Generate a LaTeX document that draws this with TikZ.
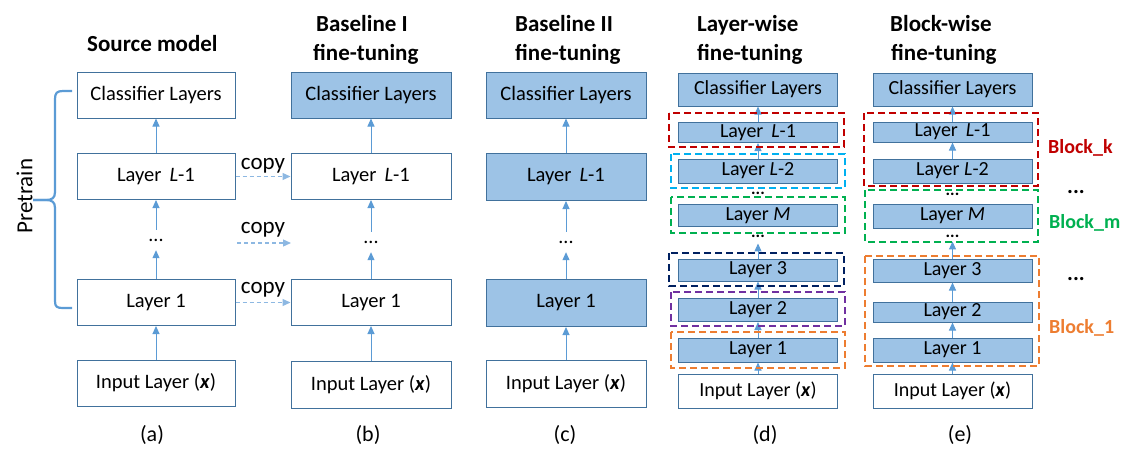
\documentclass[tikz,border=0pt]{standalone}
\usepackage{fontspec}
\setmainfont{Carlito}
\usetikzlibrary{arrows.meta}
\definecolor{bd}{HTML}{41719C}
\definecolor{fl}{HTML}{9DC3E6}
\definecolor{ar}{HTML}{5B9BD5}
\definecolor{cp}{HTML}{8DB8E2}
\definecolor{dred}{HTML}{C00000}
\definecolor{dblue}{HTML}{00B0F0}
\definecolor{dgreen}{HTML}{00B050}
\definecolor{dnavy}{HTML}{002060}
\definecolor{dpurple}{HTML}{7030A0}
\definecolor{dorange}{HTML}{ED7D31}
\begin{document}
\begin{tikzpicture}[x=1pt,y=-1pt,
  lbox/.style={draw=bd, line width=1pt, minimum width=158pt, minimum height=46pt, inner sep=0pt, font=\fontsize{20.5}{24}\selectfont},
  fbox/.style={lbox, fill=fl},
  sbox/.style={draw=bd, line width=1pt, fill=fl, minimum width=159pt, inner sep=0pt, font=\fontsize{20}{22}\selectfont},
  ibox/.style={draw=bd, line width=1pt, minimum width=159pt, minimum height=34pt, inner sep=0pt, font=\fontsize{20}{22}\selectfont},
  dotsn/.style={minimum height=20pt, inner sep=0pt, font=\fontsize{20}{24}\selectfont},
  sdotsn/.style={inner sep=0pt, font=\fontsize{17}{18}\selectfont\bfseries},
  arr/.style={draw=ar, line width=1pt, -{Triangle[length=8pt,width=7pt]}},
  cparr/.style={draw=cp, line width=1.3pt, dash pattern=on 4pt off 3pt, -{Triangle[length=8pt,width=7pt]}},
  ttl/.style={anchor=base west, inner sep=0pt, font=\fontsize{23}{28}\selectfont\bfseries},
  cpl/.style={anchor=base, inner sep=0pt, font=\fontsize{23}{28}\selectfont},
  sub/.style={inner sep=0pt, font=\fontsize{22}{26}\selectfont},
  dbx/.style={line width=2.2pt, dash pattern=on 7pt off 4pt},
  blk/.style={anchor=west, inner sep=0pt, font=\fontsize{20}{24}\selectfont\bfseries},
  sdots/.style={inner sep=0pt, font=\fontsize{22}{26}\selectfont\bfseries}
]
\useasboundingbox (0,0) rectangle (1141,463);

% ---------- titles ----------
\node[ttl] (tA) at (87,51) {Source model};
\node[ttl] (tB1) at (316,31) {Baseline I};
\node[ttl] (tB2) at (313,60) {fine-tuning};
\node[ttl] (tC1) at (515,31) {Baseline II};
\node[ttl] (tC2) at (515,60) {fine-tuning};
\node[ttl] (tD1) at (697,31) {Layer-wise};
\node[ttl] (tD2) at (697,60) {fine-tuning};
\node[ttl] (tE1) at (890,31) {Block-wise};
\node[ttl] (tE2) at (891,60) {fine-tuning};

% ---------- column (a) ----------
\node[lbox] (aC) at (156,95) {Classifier Layers};
\node[lbox] (aL) at (156,176.5) {Layer \,\textit{L}-1};
\node[dotsn] (aD) at (156,240) {...};
\node[lbox] (a1) at (156,302.5) {Layer 1};
\node[lbox] (aI) at (156,383) {Input Layer (\textbf{\textit{x}})};
\draw[arr] (aI.north) -- (a1.south);
\draw[arr] (a1.north) -- (aD.south);
\draw[arr] (aD.north) -- (aL.south);
\draw[arr] (aL.north) -- (aC.south);
\node[sub] (la) at (152,435) {(a)};

% brace
\draw[ar, line width=2.2pt] (72,91) -- (63,91) .. controls (57,91) and (55,93) .. (55,99) -- (55,192) .. controls (55,198) and (52,200) .. (46,200) -- (33,200);
\draw[ar, line width=2.2pt] (33,200) -- (46,200) .. controls (52,200) and (55,202) .. (55,208) -- (55,301) .. controls (55,307) and (57,308) .. (63,308) -- (72,308);
\node[rotate=90, inner sep=0pt, font=\fontsize{23}{28}\selectfont] (pt) at (24.5,196) {Pretrain};

% ---------- column (b) ----------
\node[fbox, minimum width=160pt] (bC) at (371,95) {Classifier Layers};
\node[lbox, minimum width=160pt] (bL) at (371,176.5) {Layer \,\textit{L}-1};
\node[dotsn] (bD) at (371,242) {...};
\node[lbox, minimum width=160pt] (b1) at (371,302.5) {Layer 1};
\node[lbox, minimum width=160pt, minimum height=47pt] (bI) at (371,384.5) {Input Layer (\textbf{\textit{x}})};
\draw[arr] (bI.north) -- (b1.south);
\draw[arr] (b1.north) -- (bD.south);
\draw[arr] (bD.north) -- (bL.south);
\draw[arr] (bL.north) -- (bC.south);
\node[sub] (lb) at (368,435) {(b)};

% copy arrows
\coordinate (cpS) at (237,243);
\coordinate (cpE) at (291,243);
\draw[cparr] (aL.east) -- (bL.west);
\draw[cparr] (cpS) -- (cpE);
\draw[cparr] (a1.east) -- (b1.west);
\node[cpl] (cp1) at (263,169) {copy};
\node[cpl] (cp2) at (263,233) {copy};
\node[cpl] (cp3) at (263,293) {copy};

% ---------- column (c) ----------
\node[fbox, minimum width=160pt] (cC) at (566,95) {Classifier Layers};
\node[fbox, minimum width=160pt, minimum height=47pt] (cL) at (566,177) {Layer \,\textit{L}-1};
\node[dotsn] (cD) at (566,242) {...};
\node[fbox, minimum width=160pt, minimum height=47pt] (c1) at (566,303) {Layer 1};
\node[lbox, minimum width=160pt, minimum height=47pt] (cI) at (566,384) {Input Layer (\textbf{\textit{x}})};
\draw[arr] (cI.north) -- (c1.south);
\draw[arr] (c1.north) -- (cD.south);
\draw[arr] (cD.north) -- (cL.south);
\draw[arr] (cL.north) -- (cC.south);
\node[sub] (lc) at (565,435) {(c)};

% ---------- column (d) ----------
\node[sbox, minimum height=33pt] (dC) at (758,89.5) {Classifier Layers};
\node[sbox, minimum height=20pt] (dL1) at (758,132.5) {Layer \,\textit{L}-1};
\node[sbox, minimum height=24pt] (dL2) at (758,171) {Layer \textit{L}-2};
\node[sdotsn] (dd1) at (758,193) {...};
\node[sbox, minimum height=22pt] (dM) at (758,215.5) {Layer \textit{M}};
\node[sdotsn] (dd2) at (758,236) {...};
\node[sbox, minimum height=22pt] (d3) at (758,270) {Layer 3};
\node[sbox, minimum height=23pt] (d2) at (758,310) {Layer 2};
\node[sbox, minimum height=24pt] (d1) at (758,350) {Layer 1};
\node[ibox] (dI) at (758,391) {Input Layer (\textbf{\textit{x}})};
\draw[arr] (dI.north) -- (d1.south);
\draw[arr] (d1.north) -- (d2.south);
\draw[arr] (d2.north) -- (d3.south);
\draw[arr, shorten >=6pt] (d3.north) -- (dd2.south);
\draw[arr] (dL2.north) -- (dL1.south);
\draw[arr] (dL1.north) -- (dC.south);
\draw[dbx, dred] (669,113) rectangle (844,147);
\draw[dbx, dblue] (671,154) rectangle (845,188);
\draw[dbx, dgreen] (671,197) rectangle (845,233);
\draw[dbx, dnavy] (669,253) rectangle (844,286);
\draw[dbx, dpurple] (671,292) rectangle (845,326);
\draw[dbx, dorange] (671,332) rectangle (845,368);
\node[sub] (ld) at (765,435) {(d)};

% ---------- column (e) ----------
\node[sbox, minimum height=33pt] (eC) at (952.5,89.5) {Classifier Layers};
\node[sbox, minimum height=20pt] (eL1) at (952.5,132) {Layer \,\textit{L}-1};
\node[sbox, minimum height=24pt] (eL2) at (952.5,171) {Layer \textit{L}-2};
\node[sdotsn] (ed1) at (952.5,194) {...};
\node[sbox, minimum height=24pt] (eM) at (952.5,216) {Layer \textit{M}};
\node[sdotsn] (ed2) at (952.5,236) {...};
\node[sbox, minimum height=23pt] (e3) at (952.5,270.5) {Layer 3};
\node[sbox, minimum height=20pt] (e2) at (952.5,312) {Layer 2};
\node[sbox, minimum height=24pt] (e1) at (952.5,350) {Layer 1};
\node[ibox] (eI) at (952.5,391) {Input Layer (\textbf{\textit{x}})};
\draw[arr] (eI.north) -- (e1.south);
\draw[arr] (e1.north) -- (e2.south);
\draw[arr] (e2.north) -- (e3.south);
\draw[arr, shorten >=4pt] (e3.north) -- (ed2.south);
\draw[arr] (eL2.north) -- (eL1.south);
\draw[arr] (eL1.north) -- (eC.south);
\draw[dbx, dred] (864,113) rectangle (1038,186);
\draw[dbx, dgreen] (865,190) rectangle (1038,242);
\draw[dbx, dorange] (865,256) rectangle (1039,366);
\node[blk, text=dred] (bk) at (1048,148) {Block\_k};
\node[blk, text=dgreen] (bm) at (1049,223) {Block\_m};
\node[blk, text=dorange] (b1l) at (1049,328) {Block\_1};
\node[sdots] (sd1) at (1076,192) {...};
\node[sdots] (sd2) at (1076,279) {...};
\node[sub] (le) at (960,435) {(e)};
\end{tikzpicture}
\end{document}
